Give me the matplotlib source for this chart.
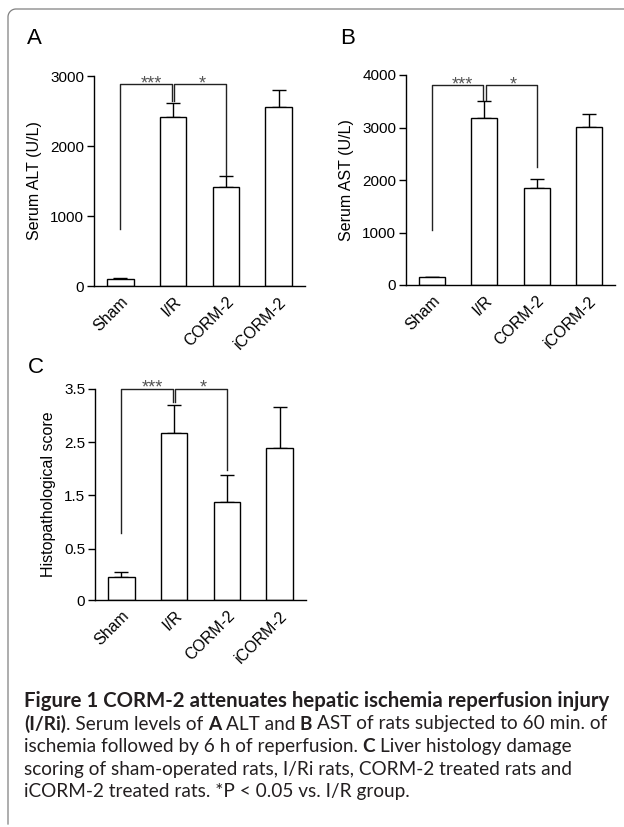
import numpy as np
import matplotlib
matplotlib.use('Agg')
import matplotlib.pyplot as plt
from matplotlib.lines import Line2D

# groups on the x axis of every panel
groups = ['Sham', 'I/R', 'CORM-2', 'iCORM-2']

# panel A: serum ALT (U/L), mean and upper error
alt_mean = [105, 2410, 1410, 2552]
alt_err = [10, 209, 157, 253]
alt_ticks = [0, 1000, 2000, 3000]

# panel B: serum AST (U/L)
ast_mean = [146, 3175, 1848, 3010]
ast_err = [13, 323, 177, 247]
ast_ticks = [0, 1000, 2000, 3000, 4000]

# panel C: histopathological score
histo_mean = [0.22, 2.67, 1.375, 2.39]
histo_err = [0.05, 0.53, 0.515, 0.78]
histo_ticks = [0, 0.5, 1.5, 2.5, 3.5]
histo_ticklabels = ['0', '0.5', '1.5', '2.5', '3.5']

# significance brackets: (bracket height, Sham leg end, I/R leg end, CORM-2 leg end)
alt_brk = (2881, 819, 2650, 1586)
ast_brk = (3803, 1048, 3524, 2254)
histo_brk = (3.5, 0.8, 3.26, 1.975)
stars = ['***', '*']

caption = [
    [("Figure 1 CORM-2 attenuates hepatic ischemia reperfusion injury", 'bold')],
    [("(I/Ri)", 'bold'), (". Serum levels of ", 'normal'), ("A ", 'bold'), ("ALT and ", 'normal'),
     ("B ", 'bold'), ("AST of rats subjected to 60 min. of", 'normal')],
    [("ischemia followed by 6 h of reperfusion. ", 'normal'), ("C ", 'bold'),
     ("Liver histology damage", 'normal')],
    [("scoring of sham-operated rats, I/Ri rats, CORM-2 treated rats and", 'normal')],
    [("iCORM-2 treated rats. *P < 0.05 vs. I/R group.", 'normal')],
]

W, H = 624, 827
plt.rcParams['font.family'] = ['Liberation Sans', 'DejaVu Sans']
fig = plt.figure(figsize=(W / 100, H / 100), dpi=100)
fig.patch.set_facecolor('white')


def add_ax(l, r, b, t):
    # pixel box (y measured from the top) -> figure fraction
    return fig.add_axes([l / W, 1 - b / H, (r - l) / W, (b - t) / H])


def panel(ax, means, errs, ylabel, brk, ylim):
    x = np.arange(len(groups))
    ax.bar(x, means, width=0.5, color='white', edgecolor='black', linewidth=1.0, zorder=2)
    ax.errorbar(x, means, yerr=[np.zeros(len(errs)), errs], fmt='none', ecolor='black',
                elinewidth=1.0, capsize=4.8, capthick=1.0, zorder=1)
    top, lb, irb, cb = brk
    e = 0.025
    ax.plot([0, 0, 1 - e, 1 - e], [lb, top, top, irb], color='#222222', lw=1.0, clip_on=False)
    ax.plot([1 + e, 1 + e, 2, 2], [irb, top, top, cb], color='#222222', lw=1.0, clip_on=False)
    for sx, st in zip([0.58, 1.56], stars):
        ax.annotate(st, (sx, top), xytext=(0, -2.8), textcoords='offset points',
                    ha='center', va='baseline', fontsize=13, color='#555555', annotation_clip=False)
    ax.set_xlim(-0.5, 3.5)
    ax.set_ylim(*ylim)
    ax.set_xticks(x)
    ax.set_xticklabels(groups, rotation=45, ha='right', va='top', rotation_mode='anchor')
    for s in ['top', 'right']:
        ax.spines[s].set_visible(False)
    for s in ['left', 'bottom']:
        ax.spines[s].set_linewidth(1.0)
    ax.tick_params(axis='y', direction='out', length=5, width=1.0, labelsize=11, pad=2)
    ax.tick_params(axis='x', length=0, labelsize=11.5, pad=6)
    ax.set_ylabel(ylabel, fontsize=11.5, labelpad=6)


axA = add_ax(94, 305, 286, 76)
panel(axA, alt_mean, alt_err, 'Serum ALT (U/L)', alt_brk, (0, 3000))
axA.set_yticks(alt_ticks)

axB = add_ax(406, 615, 285, 75)
panel(axB, ast_mean, ast_err, 'Serum AST (U/L)', ast_brk, (0, 4000))
axB.set_yticks(ast_ticks)


# the score axis in C is stretched below 0.5
def fwd(v):
    v = np.asarray(v, dtype=float)
    return np.where(v < 0.5, v * 1.925, v + 0.4625)


def inv(u):
    u = np.asarray(u, dtype=float)
    return np.where(u < 0.9625, u / 1.925, u - 0.4625)


axC = add_ax(95, 306, 600, 389)
axC.set_yscale('function', functions=(fwd, inv))
panel(axC, histo_mean, histo_err, 'Histopathological score', histo_brk, (0, 3.5))
axC.set_yticks(histo_ticks)
axC.set_yticklabels(histo_ticklabels)
axC.yaxis.set_minor_locator(matplotlib.ticker.NullLocator())

# panel letters
for letter, x, y in [('A', 27, 44), ('B', 340, 44), ('C', 28, 373)]:
    fig.text(x / W, 1 - y / H, letter, fontsize=16, va='baseline', ha='left')

# caption, fitted to the column width
capfont = ['Lato', 'DejaVu Sans']
renderer = fig.canvas.get_renderer()


def text_w(s, weight, size):
    t = fig.text(0, 0, s, fontsize=size, fontweight=weight, family=capfont)
    w = t.get_window_extent(renderer).width
    t.remove()
    return w


def line_w(line, size):
    return sum(text_w(s, wt, size) for s, wt in line)


capsize = 10 * 584 / line_w(caption[1], 10)
boldsize = 10 * 587 / line_w(caption[0], 10)

for i, line in enumerate(caption):
    xpx = 24
    ypx = 707 + i * 22.5
    size = boldsize if i == 0 else capsize
    for s, wt in line:
        fig.text(xpx / W, 1 - ypx / H, s, fontsize=size, fontweight=wt, family=capfont,
                 va='baseline', ha='left', color='#231f20')
        xpx += text_w(s, wt, size)

# rounded frame on the top and left
t = np.linspace(0, np.pi / 2, 20)
bx = np.concatenate([[W], 16 - 8 * np.sin(t), [8]])
by = np.concatenate([[9], 17 - 8 * np.cos(t), [824]])
fig.add_artist(Line2D(bx / W, 1 - by / H, transform=fig.transFigure, color='#808080', lw=0.9))

fig.savefig('out.png', dpi=100, facecolor='white')
